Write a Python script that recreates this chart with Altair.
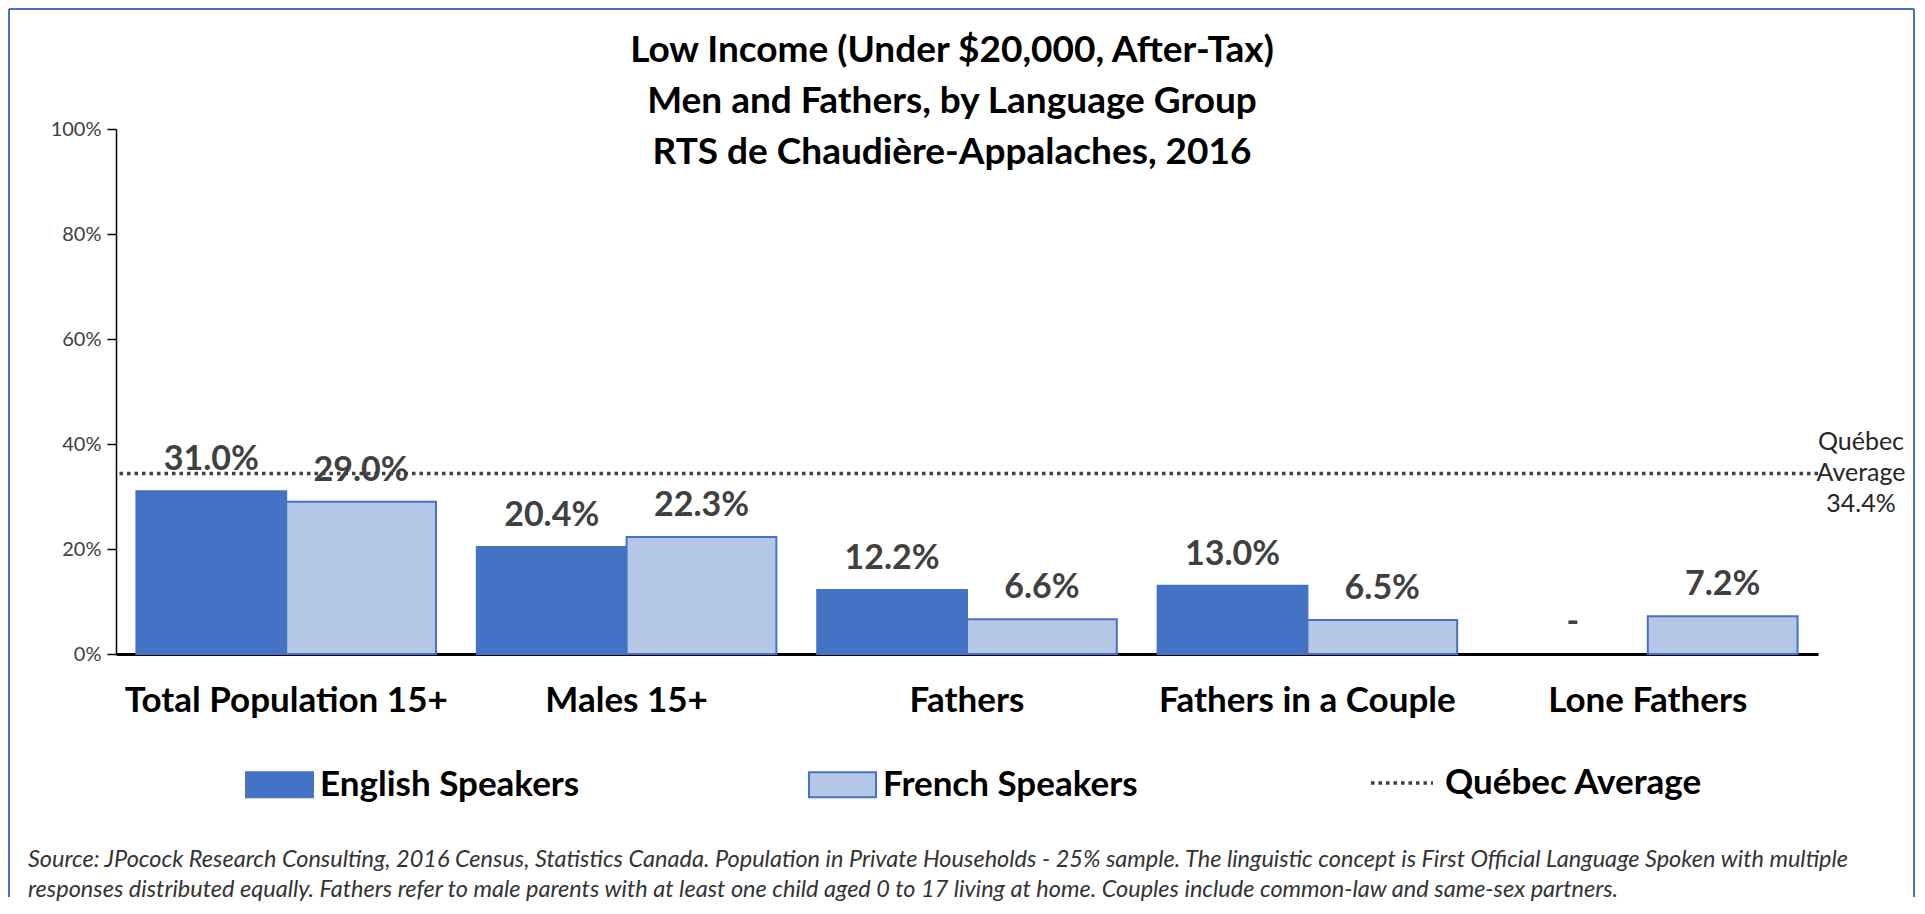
import altair as alt
import pandas as pd

categories = ["Total Population 15+", "Males 15+", "Fathers", "Fathers in a Couple", "Lone Fathers"]
series = ["English Speakers", "French Speakers"]
english = [0.310, 0.204, 0.122, 0.130, None]
french = [0.290, 0.223, 0.066, 0.065, 0.072]
series_colors = ["#4472C4", "#B4C7E7"]
quebec_average = 0.344
quebec_name = "Québec Average"
quebec_note = ["Québec", "Average", "34.4%"]
y_ticks = [0.0, 0.2, 0.4, 0.6, 0.8, 1.0]
title_lines = [
    "Low Income (Under $20,000, After-Tax)",
    "Men and Fathers, by Language Group",
    "RTS de Chaudière-Appalaches, 2016",
]
source_lines = [
    "Source: JPocock Research Consulting, 2016 Census, Statistics Canada. Population in Private Households - 25% sample. The linguistic concept is First Official Language Spoken with multiple",
    "responses distributed equally. Fathers refer to male parents with at least one child aged 0 to 17 living at home. Couples include common-law and same-sex partners.",
]

W, H = 1702, 525
FONT = "Lato"

rows = []
for i, cat in enumerate(categories):
    for s, vals in zip(series, [english, french]):
        v = vals[i]
        rows.append({
            "category": cat,
            "series": s,
            "value": v,
            "label_y": v if v is not None else 0.0,
            "label": f"{v * 100:.1f}%" if v is not None else "-",
        })
df = pd.DataFrame(rows)
rule_df = pd.DataFrame({"value": [quebec_average], "name": [quebec_name]})
one = pd.DataFrame({"k": [0]})

x_enc = alt.X(
    "category:N", sort=categories,
    scale=alt.Scale(paddingInner=0.12, paddingOuter=0.06),
    axis=alt.Axis(title=None, labelAngle=0, labelFont=FONT, labelFontWeight="bold",
                  labelFontSize=35, labelColor="black", labelPadding=29, ticks=False,
                  domainColor="black", domainWidth=3, labelLimit=500),
)
xoff = alt.XOffset("series:N", sort=series, scale=alt.Scale(paddingInner=0, paddingOuter=0))
y_axis = alt.Axis(title=None, values=y_ticks, format=".0%", labelFont=FONT, labelFontSize=20,
                  labelColor="#404040", tickColor="black", tickSize=9, tickWidth=1.5,
                  domainColor="black", domainWidth=1.5, grid=False, labelPadding=6)
y_scale = alt.Scale(domain=[0, 1], nice=False)

base = alt.Chart(df)

bars = base.transform_filter("isValid(datum.value)").mark_bar(
    stroke="#4472C4", strokeWidth=2
).encode(
    x=x_enc, xOffset=xoff,
    y=alt.Y("value:Q", scale=y_scale, axis=y_axis),
    color=alt.Color(
        "series:N", sort=series,
        scale=alt.Scale(domain=series, range=series_colors),
        legend=alt.Legend(
            title=None, orient="none", legendX=129, legendY=621, direction="horizontal",
            columns=2, columnPadding=225, padding=0,
            symbolType="M-1,-0.37H1V0.37H-1Z", symbolSize=4489,
            symbolStrokeColor="#4472C4", symbolStrokeWidth=2, symbolOpacity=1,
            labelFont=FONT, labelFontWeight="bold", labelFontSize=35, labelColor="black",
            labelOffset=6, labelLimit=500,
        ),
    ),
)

avg_rule = alt.Chart(rule_df).mark_rule(color="#404040", strokeWidth=3.5).encode(
    y=alt.Y("value:Q", scale=y_scale, axis=y_axis),
    strokeDash=alt.StrokeDash(
        "name:N",
        scale=alt.Scale(domain=[quebec_name], range=[[3.5, 4]]),
        legend=alt.Legend(
            title=None, orient="none", legendX=1253, legendY=621, padding=0,
            symbolType="stroke", symbolSize=3844, symbolStrokeColor="#404040",
            symbolStrokeWidth=3.5,
            labelFont=FONT, labelFontWeight="bold", labelFontSize=35, labelColor="black",
            labelOffset=10, labelLimit=500,
        ),
    ),
)

labels = base.mark_text(
    font=FONT, fontSize=34, fontWeight="bold", color="#404040", baseline="middle", dy=-31
).encode(
    x=x_enc, xOffset=xoff,
    y=alt.Y("label_y:Q", scale=y_scale, axis=y_axis),
    text="label:N",
)

avg_note = alt.Chart(rule_df).mark_text(
    text=quebec_note, font=FONT, fontSize=25, lineHeight=31, align="center",
    baseline="middle", color="#262626", dy=-31
).encode(x=alt.value(W + 43), y=alt.Y("value:Q", scale=y_scale, axis=y_axis))

source = alt.Chart(one).mark_text(
    text=source_lines, font=FONT, fontStyle="italic", fontSize=23.5, lineHeight=30,
    align="left", baseline="middle", color="#333333"
).encode(x=alt.value(-88), y=alt.value(731))

border_left = alt.Chart(one).mark_rule(color="#4472C4", strokeWidth=2).encode(
    x=alt.value(-107), y=alt.value(-120), y2=alt.value(768))
border_top = alt.Chart(one).mark_rule(color="#4472C4", strokeWidth=2).encode(
    x=alt.value(-107), x2=alt.value(1798), y=alt.value(-120))
border_right = alt.Chart(one).mark_rule(color="#4472C4", strokeWidth=2).encode(
    x=alt.value(1798), y=alt.value(-120), y2=alt.value(768))

chart = alt.layer(
    bars, avg_rule, labels, avg_note, source, border_left, border_top, border_right
).properties(
    width=W, height=H, padding=0,
    title=alt.TitleParams(
        text=title_lines, font=FONT, fontSize=37, fontWeight="bold", color="black",
        lineHeight=51, anchor="middle", offset=-164, dx=-15,
    ),
).configure_view(strokeWidth=0).resolve_scale(y="shared")

chart.save("out.html", embed_options={"renderer": "svg", "actions": False})
